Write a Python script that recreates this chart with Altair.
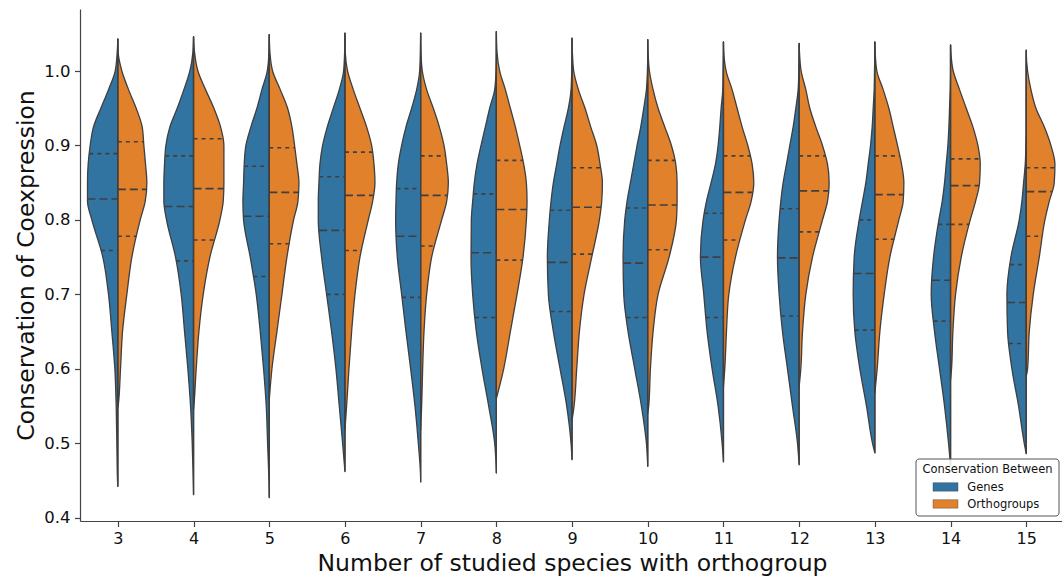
import altair as alt
import pandas as pd
import numpy as np

CATEGORIES = [3, 4, 5, 6, 7, 8, 9, 10, 11, 12, 13, 14, 15]
SERIES = ["Genes", "Orthogroups"]
COLORS = ["#3274a1", "#e1812c"]
LEGEND_TITLE = "Conservation Between"
X_TITLE = "Number of studied species with orthogroup"
Y_TITLE = "Conservation of Coexpression"
Y_TICKS = [0.4, 0.5, 0.6, 0.7, 0.8, 0.9, 1.0]

# density profile levels (values on the y axis)
LEVELS = [0.45, 0.50, 0.55, 0.60, 0.65, 0.70, 0.75, 0.80, 0.825, 0.85,
          0.875, 0.90, 0.925, 0.95, 0.975, 1.00, 1.025]

GENES_MIN = [0.442, 0.431, 0.427, 0.462, 0.448, 0.460, 0.478, 0.469, 0.475, 0.471, 0.487, 0.470, 0.486]
GENES_MAX = [1.043, 1.046, 1.049, 1.051, 1.051, 1.053, 1.044, 1.042, 1.039, 1.037, 1.039, 1.035, 1.028]
GENES_DENSITY = [
    [1, 3, 5, 9, 18, 28, 45, 78, 91, 91, 89, 83, 73, 51, 28, 8, 2],
    [1, 4, 9, 17, 27, 37, 54, 81, 89, 89, 87, 83, 71, 49, 29, 11, 2],
    [1, 5, 9, 17, 27, 39, 57, 77, 79, 77, 75, 70, 55, 37, 22, 6, 1],
    [0, 7, 17, 27, 40, 55, 70, 80, 80, 78, 75, 67, 53, 35, 17, 4, 1],
    [0, 7, 17, 30, 44, 57, 70, 75, 74, 72, 67, 57, 44, 27, 12, 3, 1],
    [0, 5, 23, 43, 60, 71, 76, 75, 71, 66, 58, 46, 33, 20, 5, 1, 0],
    [0, 3, 16, 36, 56, 71, 74, 68, 63, 56, 46, 36, 24, 11, 3, 1, 0],
    [0, 4, 19, 39, 59, 72, 74, 69, 62, 52, 42, 32, 21, 12, 4, 1, 0],
    [0, 4, 16, 34, 49, 59, 69, 61, 51, 37, 24, 16, 11, 7, 2, 1, 0],
    [0, 5, 20, 35, 50, 60, 65, 60, 55, 48, 38, 28, 18, 10, 3, 1, 0],
    [0, 7, 25, 45, 60, 65, 62, 47, 37, 27, 20, 13, 8, 5, 2, 1, 0],
    [0, 6, 18, 33, 48, 58, 51, 35, 25, 18, 13, 8, 5, 3, 1, 0, 0],
    [0, 6, 23, 43, 56, 58, 46, 21, 13, 8, 3, 1, 0, 0, 0, 0, 0],
]
GENES_QUARTILES = [
    [0.759, 0.828, 0.889], [0.745, 0.818, 0.886], [0.724, 0.805, 0.872],
    [0.700, 0.786, 0.858], [0.696, 0.778, 0.842], [0.669, 0.756, 0.835],
    [0.677, 0.743, 0.813], [0.669, 0.742, 0.816], [0.669, 0.750, 0.809],
    [0.671, 0.749, 0.815], [0.652, 0.728, 0.800], [0.664, 0.719, 0.794],
    [0.634, 0.689, 0.740],
]

ORTHO_MIN = [0.549, 0.545, 0.558, 0.518, 0.518, 0.560, 0.531, 0.540, 0.576, 0.576, 0.567, 0.585, 0.590]
ORTHO_MAX = GENES_MAX
ORTHO_DENSITY = [
    [0, 0, 1, 8, 14, 27, 42, 67, 82, 87, 83, 78, 73, 55, 32, 12, 1],
    [0, 0, 1, 8, 16, 29, 49, 79, 89, 91, 91, 91, 81, 61, 36, 13, 3],
    [0, 0, 0, 8, 23, 38, 53, 73, 86, 89, 83, 76, 68, 55, 33, 10, 2],
    [0, 0, 5, 12, 20, 30, 45, 70, 83, 90, 87, 80, 65, 45, 25, 8, 1],
    [0, 0, 3, 6, 10, 18, 33, 63, 78, 83, 78, 70, 56, 38, 18, 5, 1],
    [0, 0, 0, 22, 42, 62, 80, 90, 92, 90, 82, 70, 57, 42, 27, 10, 2],
    [0, 0, 6, 14, 22, 36, 59, 82, 89, 91, 84, 74, 56, 39, 19, 5, 1],
    [0, 0, 3, 8, 16, 31, 64, 86, 88, 88, 84, 71, 51, 31, 16, 5, 1],
    [0, 0, 0, 4, 9, 16, 36, 66, 83, 91, 86, 73, 56, 41, 26, 8, 1],
    [0, 0, 0, 5, 10, 20, 40, 70, 85, 90, 85, 70, 50, 32, 20, 6, 1],
    [0, 0, 0, 7, 15, 28, 45, 72, 85, 87, 80, 68, 55, 42, 25, 6, 1],
    [0, 0, 0, 3, 7, 15, 32, 59, 75, 87, 89, 82, 67, 47, 27, 8, 1],
    [0, 0, 0, 4, 9, 21, 39, 56, 69, 84, 86, 74, 54, 29, 14, 4, 0],
]
ORTHO_QUARTILES = [
    [0.778, 0.841, 0.905], [0.773, 0.842, 0.909], [0.768, 0.837, 0.897],
    [0.759, 0.833, 0.891], [0.765, 0.833, 0.886], [0.746, 0.814, 0.880],
    [0.754, 0.817, 0.870], [0.760, 0.820, 0.880], [0.773, 0.837, 0.886],
    [0.784, 0.839, 0.886], [0.774, 0.834, 0.886], [0.794, 0.846, 0.882],
    [0.778, 0.838, 0.870],
]

WIDTH_SCALE = 1 / 227.0   # density units -> category units
EDGE = "#3f3f3f"
FONT = "DejaVu Sans"

area_rows, quart_rows, center_rows = [], [], []
sides = [
    ("Genes", GENES_MIN, GENES_MAX, GENES_DENSITY, GENES_QUARTILES, -1),
    ("Orthogroups", ORTHO_MIN, ORTHO_MAX, ORTHO_DENSITY, ORTHO_QUARTILES, 1),
]
for i, c in enumerate(CATEGORIES):
    center_rows.append({"xa": c, "y": min(GENES_MIN[i], ORTHO_MIN[i]),
                        "y2": max(GENES_MAX[i], ORTHO_MAX[i])})
    for side, mins, maxs, dens, quarts, sign in sides:
        lo, hi = mins[i], maxs[i]
        pts = [(lo, 0.0)] + [(lv, w) for lv, w in zip(LEVELS, dens[i]) if lo < lv < hi] + [(hi, 0.0)]
        ys = np.array([p[0] for p in pts])
        ws = np.array([p[1] for p in pts]) * WIDTH_SCALE
        for y, w in zip(ys, ws):
            area_rows.append({"key": f"{c}-{side}", "side": side, "y": float(y),
                              "xa": c + sign * w if sign < 0 else c,
                              "xb": c if sign < 0 else c + w})
        for k, q in enumerate(quarts[i]):
            w = float(np.interp(q, ys, ws))
            quart_rows.append({"kind": "median" if k == 1 else "quartile", "y": q,
                               "xa": c + sign * w if sign < 0 else c,
                               "xb": c if sign < 0 else c + w})

areas_df = pd.DataFrame(area_rows).sort_values(["key", "y"])
quart_df = pd.DataFrame(quart_rows)
center_df = pd.DataFrame(center_rows)

W, H = 982, 512
SPACING = 75.7
xscale = alt.Scale(domain=[2.5, 2.5 + W / SPACING], nice=False, zero=False)
yscale = alt.Scale(domain=[0.3956, 1.0833], nice=False, zero=False)

xaxis = alt.Axis(values=CATEGORIES, format="d", title=X_TITLE, grid=False,
                 tickSize=5.5, labelPadding=3.5, labelFontSize=16, labelFont=FONT,
                 labelColor="#111", titleFont=FONT, titleFontSize=23.5, titleFontWeight="normal",
                 titleColor="#111", titleBaseline="alphabetic", titleY=49, titleX=492,
                 titleAlign="center", domainColor="#444", tickColor="#444",
                 domainWidth=1.2, tickWidth=1.2)
yaxis = alt.Axis(values=Y_TICKS, format=".1f", title=Y_TITLE, grid=False,
                 tickSize=5.5, labelPadding=4.5, labelFontSize=16.5, labelFont=FONT,
                 labelColor="#111", titleFont=FONT, titleFontSize=23.5, titleFontWeight="normal",
                 titleColor="#111", titleAngle=270, titleBaseline="alphabetic",
                 titleX=-47, titleY=H / 2, titleAlign="center", domainColor="#444",
                 tickColor="#444", domainWidth=1.2, tickWidth=1.2)

X = alt.X("xa:Q", scale=xscale, axis=xaxis, stack=None)
Y = alt.Y("y:Q", scale=yscale, axis=yaxis)

areas = alt.Chart(areas_df).mark_area(
    orient="horizontal", interpolate="monotone", stroke=EDGE, strokeWidth=1.3,
    strokeJoin="round", fillOpacity=1
).encode(
    x=X, x2="xb:Q", y=Y, detail="key:N",
    color=alt.Color("side:N", scale=alt.Scale(domain=SERIES, range=COLORS), legend=None),
)

center = alt.Chart(center_df).mark_rule(color=EDGE, strokeWidth=1.3).encode(
    x=X, y=Y, y2="y2:Q")

quart = alt.Chart(quart_df).transform_filter(alt.datum.kind == "quartile").mark_rule(
    color=EDGE, strokeWidth=1.6, strokeDash=[4, 4]).encode(x=X, x2="xb:Q", y=Y)
median = alt.Chart(quart_df).transform_filter(alt.datum.kind == "median").mark_rule(
    color=EDGE, strokeWidth=1.6, strokeDash=[8, 4]).encode(x=X, x2="xb:Q", y=Y)

# manual legend (matplotlib style box)
one = pd.DataFrame({"t": [LEGEND_TITLE]})
leg_box = alt.Chart(one).mark_rect(fill="white", fillOpacity=0.85, stroke="#555",
                                   strokeWidth=1, cornerRadius=3).encode(
    x=alt.value(836), x2=alt.value(979), y=alt.value(450), y2=alt.value(507))
leg_title = alt.Chart(one).mark_text(font=FONT, fontSize=11.5, align="center",
                                     baseline="alphabetic", color="#111").encode(
    x=alt.value(907.5), y=alt.value(463.7), text="t:N")
leg_layers = [leg_box, leg_title]
for k, (name, col) in enumerate(zip(SERIES, COLORS)):
    d = pd.DataFrame({"t": [name]})
    top = 473.7 + k * 17.0
    leg_layers.append(alt.Chart(d).mark_rect(fill=col, stroke=EDGE, strokeWidth=0.4).encode(
        x=alt.value(853), x2=alt.value(878), y=alt.value(top), y2=alt.value(top + 8.5)))
    leg_layers.append(alt.Chart(d).mark_text(font=FONT, fontSize=11.5, align="left",
                                             baseline="alphabetic", color="#111").encode(
        x=alt.value(887.3), y=alt.value(top + 8.0), text="t:N"))

chart = alt.layer(areas, center, quart, median, *leg_layers).properties(
    width=W, height=H,
    autosize=alt.AutoSizeParams(type="none"),
    padding={"left": 80, "top": 9, "right": 0, "bottom": 59},
).configure_view(stroke=None)

chart.save("out.html", embed_options={"renderer": "svg", "actions": False})
